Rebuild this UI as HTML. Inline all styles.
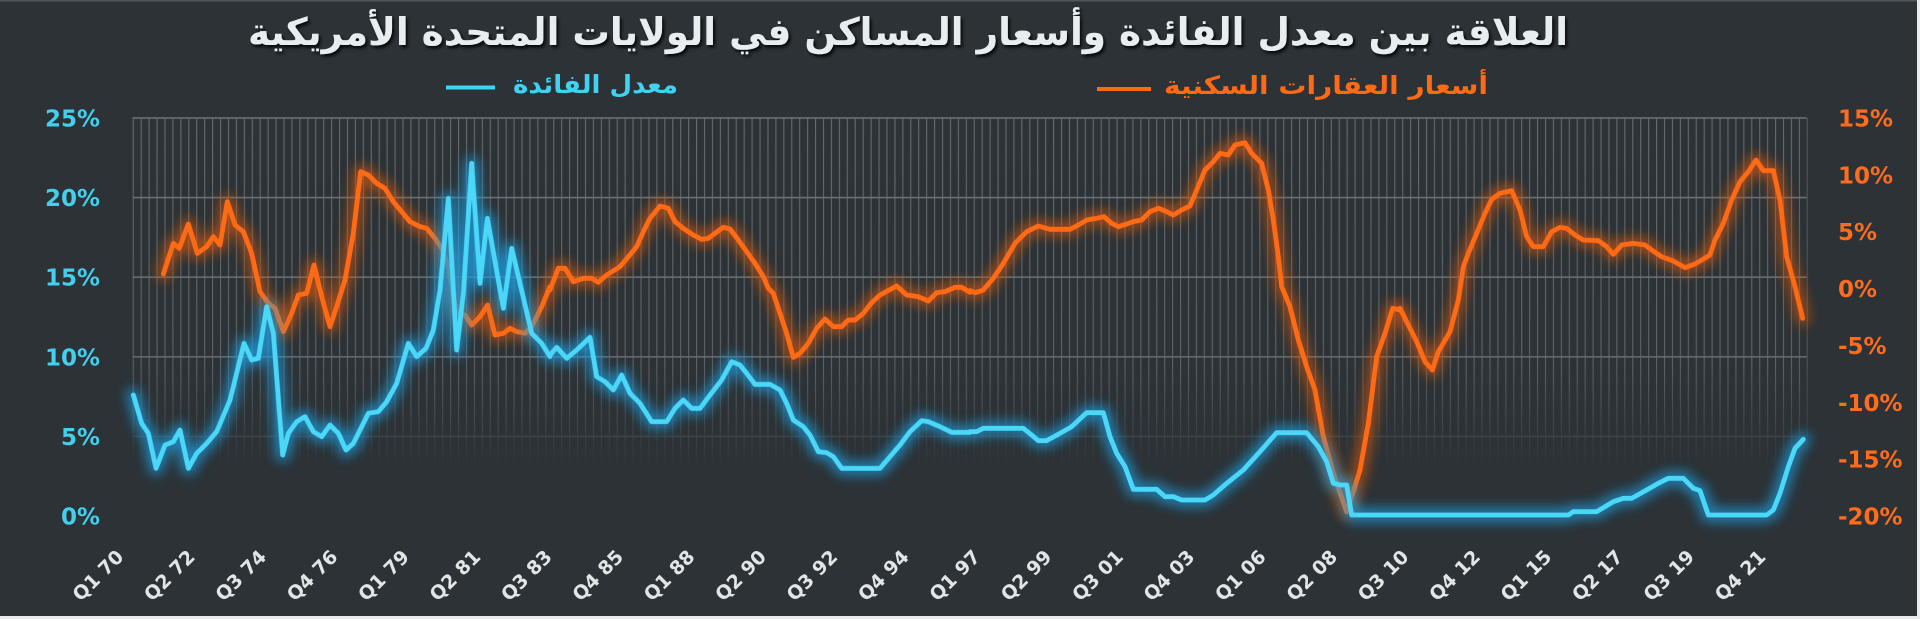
<!DOCTYPE html>
<html>
<head>
<meta charset="utf-8">
<style>
html,body{margin:0;padding:0;background:#e9ebec;}
body{width:1920px;height:619px;overflow:hidden;}
svg{display:block;}
</style>
</head>
<body>
<svg width="1920" height="619" viewBox="0 0 1920 619" xmlns="http://www.w3.org/2000/svg">
<defs>
  <pattern id="vg" x="132.7" y="0" width="7.934" height="619" patternUnits="userSpaceOnUse">
    <rect x="0" y="0" width="1.1" height="619" fill="#656c6f"/>
  </pattern>
  <linearGradient id="fadeGrad" x1="0" y1="118" x2="0" y2="516" gradientUnits="userSpaceOnUse">
    <stop offset="0" stop-color="#fff" stop-opacity="1"/>
    <stop offset="0.62" stop-color="#fff" stop-opacity="0.85"/>
    <stop offset="0.88" stop-color="#fff" stop-opacity="0"/>
    <stop offset="1" stop-color="#fff" stop-opacity="0"/>
  </linearGradient>
  <mask id="fade" maskUnits="userSpaceOnUse" x="0" y="0" width="1920" height="619">
    <rect x="0" y="0" width="1920" height="619" fill="url(#fadeGrad)"/>
  </mask>
  <filter id="blur" x="-5%" y="-20%" width="110%" height="140%">
    <feGaussianBlur stdDeviation="6"/>
  </filter>
  <filter id="shadow" x="-5%" y="-40%" width="110%" height="180%">
    <feDropShadow dx="2" dy="2.5" stdDeviation="1.5" flood-color="#000" flood-opacity="0.85"/>
  </filter>

  <g id="cy" fill="none">
    <polyline vector-effect="non-scaling-stroke" transform="translate(120 100) scale(0.33333)" points="40,885 65,970 85,1000 108,1105 135,1035 160,1025 180,990 205,1105 230,1060 260,1030 290,995 330,900 372,730 395,780 415,775 440,620 460,700 488,1065 505,1000 530,965 555,950 580,995 605,1010 630,975 655,1000 678,1050 700,1030 745,940 775,935 800,905 830,850 865,730 890,770 918,745 940,690 960,570 985,295 1010,750 1030,580 1055,190 1080,550 1102,355 1150,625 1175,445 1200,550 1235,700 1265,730 1290,770"/>
    <polyline vector-effect="non-scaling-stroke" transform="translate(540 100) scale(0.33333)" points="30,765 50,742 80,775 110,750 150,712 170,830 195,845 220,870 245,825 270,880 300,910 335,965 380,965 405,925 430,900 455,925 480,925 510,885 545,840 575,785 600,795 620,820 645,853 690,853 720,870 740,910 760,960 790,980 810,1005 835,1055 860,1058 880,1070 905,1105 1020,1105 1050,1070 1080,1035 1110,995 1145,962 1165,965 1200,980 1235,997 1290,997"/>
    <polyline vector-effect="non-scaling-stroke" transform="translate(960 100) scale(0.33333)" points="30,995 50,995 70,985 190,985 215,1005 235,1022 260,1022 300,1000 335,980 380,938 430,938 450,1010 470,1060 495,1100 520,1168 590,1168 615,1190 640,1190 665,1200 735,1200 760,1185 800,1150 850,1110 900,1055 950,998 1040,998 1075,1040 1100,1085 1120,1150 1140,1155 1160,1155 1175,1245 1320,1245"/>
    <polyline vector-effect="non-scaling-stroke" transform="translate(1380 100) scale(0.33333)" points="60,1245 565,1245 580,1235 650,1235 700,1205 730,1195 755,1195 800,1170 835,1150 865,1135 910,1135 940,1165 960,1172 985,1245 1160,1245 1180,1230 1200,1180 1225,1100 1245,1045 1270,1018"/>
  </g>

  <g id="or" fill="none">
    <polyline vector-effect="non-scaling-stroke" transform="translate(120 100) scale(0.33333)" points="130,522 160,430 178,445 205,372 232,460 260,440 280,410 300,435 322,305 345,375 370,395 395,460 420,575 445,610 465,625 490,695 515,640 535,585 560,580 582,495 605,590 630,680 650,620 675,540 700,400 722,215 745,225 770,250 795,265 820,305 845,335 870,365 900,380 920,385 945,415 965,445 985,500 1010,640 1035,645 1055,675 1080,650 1103,615 1125,705 1150,700 1170,685 1190,695 1215,700 1235,680 1265,620 1290,560"/>
    <polyline vector-effect="non-scaling-stroke" transform="translate(540 100) scale(0.33333)" points="30,570 55,505 75,505 100,545 130,535 155,535 175,547 200,525 240,500 265,470 290,440 310,395 330,355 360,318 385,325 405,365 430,385 460,405 485,418 505,415 525,400 550,382 570,387 595,420 620,455 645,490 670,530 685,565 700,580 720,640 740,700 760,772 780,760 805,730 830,685 855,657 880,680 905,680 925,660 945,660 970,640 995,608 1020,585 1070,558 1100,585 1135,590 1165,603 1190,578 1215,575 1245,562 1265,562 1290,577"/>
    <polyline vector-effect="non-scaling-stroke" transform="translate(960 100) scale(0.33333)" points="30,572 45,578 70,570 100,535 130,490 165,430 200,395 235,378 270,388 330,388 355,375 380,360 410,355 432,350 455,370 475,380 500,372 520,365 545,360 570,335 595,325 620,335 640,345 665,330 690,318 710,270 735,210 760,185 780,160 805,165 825,135 855,128 875,160 905,190 925,270 940,360 955,470 965,560 990,620 1015,720 1040,800 1065,870 1090,1010 1120,1120 1160,1235 1180,1175 1200,1110 1225,970 1250,770 1275,700 1298,625 1320,630"/>
    <polyline vector-effect="non-scaling-stroke" transform="translate(1380 100) scale(0.33333)" points="60,625 85,675 110,725 135,785 157,810 175,755 210,695 235,600 250,500 265,460 290,400 315,340 335,298 360,280 395,272 420,330 440,410 460,440 490,440 515,395 540,382 560,385 585,405 610,420 655,422 680,440 700,463 725,435 760,430 795,435 815,450 845,470 880,483 915,503 945,492 990,465 1005,420 1030,370 1055,300 1080,245 1105,215 1128,180 1150,212 1180,212 1200,300 1220,470 1245,560 1268,655"/>
  </g>
</defs>

<!-- background -->
<rect x="0" y="0" width="1917" height="616" fill="#2c3236"/>
<rect x="0" y="0" width="1917" height="1.5" fill="#4f5558"/>

<!-- gridlines -->
<g mask="url(#fade)">
  <rect x="132" y="118" width="1675.5" height="398" fill="url(#vg)"/>
  <g stroke="#6d7477" stroke-width="1.6">
    <line x1="132.7" y1="118" x2="1806.7" y2="118"/>
    <line x1="132.7" y1="197.6" x2="1806.7" y2="197.6"/>
    <line x1="132.7" y1="277.2" x2="1806.7" y2="277.2"/>
    <line x1="132.7" y1="356.8" x2="1806.7" y2="356.8"/>
    <line x1="132.7" y1="436.4" x2="1806.7" y2="436.4"/>
  </g>
</g>

<!-- series: orange -->
<use href="#or" stroke="#d2560c" stroke-width="14" opacity="0.7" filter="url(#blur)" stroke-linejoin="round" stroke-linecap="round"/>
<use href="#or" stroke="#ff6a14" stroke-width="4.8" stroke-linejoin="round" stroke-linecap="round"/>

<!-- series: cyan -->
<use href="#cy" stroke="#1f9ee0" stroke-width="14" opacity="0.75" filter="url(#blur)" stroke-linejoin="round" stroke-linecap="round"/>
<use href="#cy" stroke="#4bd7f7" stroke-width="4.8" stroke-linejoin="round" stroke-linecap="round"/>

<!-- left axis labels -->
<g font-family="'DejaVu Sans', 'Liberation Sans', sans-serif" font-weight="bold" font-size="23" fill="#43d0ef" text-anchor="end">
  <text x="100" y="126.5">25%</text>
  <text x="100" y="206">20%</text>
  <text x="100" y="285.7">15%</text>
  <text x="100" y="365.3">10%</text>
  <text x="100" y="445">5%</text>
  <text x="100" y="524.5">0%</text>
</g>

<!-- right axis labels -->
<g font-family="'DejaVu Sans', 'Liberation Sans', sans-serif" font-weight="bold" font-size="23" fill="#ff6c1c" text-anchor="start">
  <text x="1838" y="126.5">15%</text>
  <text x="1838" y="183.4">10%</text>
  <text x="1838" y="240.2">5%</text>
  <text x="1838" y="297.1">0%</text>
  <text x="1838" y="353.9">-5%</text>
  <text x="1838" y="410.8">-10%</text>
  <text x="1838" y="467.6">-15%</text>
  <text x="1838" y="524.5">-20%</text>
</g>

<!-- x axis labels -->
<g font-family="'DejaVu Sans', 'Liberation Sans', sans-serif" font-weight="bold" font-size="19" fill="#e2e5e6" text-anchor="end">
  <text transform="translate(124.7 558) rotate(-45)">Q1 70</text>
  <text transform="translate(196.1 558) rotate(-45)">Q2 72</text>
  <text transform="translate(267.5 558) rotate(-45)">Q3 74</text>
  <text transform="translate(338.9 558) rotate(-45)">Q4 76</text>
  <text transform="translate(410.3 558) rotate(-45)">Q1 79</text>
  <text transform="translate(481.7 558) rotate(-45)">Q2 81</text>
  <text transform="translate(553.1 558) rotate(-45)">Q3 83</text>
  <text transform="translate(624.5 558) rotate(-45)">Q4 85</text>
  <text transform="translate(695.9 558) rotate(-45)">Q1 88</text>
  <text transform="translate(767.3 558) rotate(-45)">Q2 90</text>
  <text transform="translate(838.7 558) rotate(-45)">Q3 92</text>
  <text transform="translate(910.1 558) rotate(-45)">Q4 94</text>
  <text transform="translate(981.5 558) rotate(-45)">Q1 97</text>
  <text transform="translate(1052.9 558) rotate(-45)">Q2 99</text>
  <text transform="translate(1124.3 558) rotate(-45)">Q3 01</text>
  <text transform="translate(1195.7 558) rotate(-45)">Q4 03</text>
  <text transform="translate(1267.1 558) rotate(-45)">Q1 06</text>
  <text transform="translate(1338.5 558) rotate(-45)">Q2 08</text>
  <text transform="translate(1409.9 558) rotate(-45)">Q3 10</text>
  <text transform="translate(1481.3 558) rotate(-45)">Q4 12</text>
  <text transform="translate(1552.7 558) rotate(-45)">Q1 15</text>
  <text transform="translate(1624.1 558) rotate(-45)">Q2 17</text>
  <text transform="translate(1695.5 558) rotate(-45)">Q3 19</text>
  <text transform="translate(1766.9 558) rotate(-45)">Q4 21</text>
</g>

<!-- title -->
<text x="908" y="45" text-anchor="middle" direction="rtl" font-family="'DejaVu Sans', 'Liberation Sans', sans-serif" font-weight="bold" font-size="38" fill="#e8edef" textLength="1320" lengthAdjust="spacingAndGlyphs" filter="url(#shadow)">العلاقة بين معدل الفائدة وأسعار المساكن في الولايات المتحدة الأمريكية</text>

<!-- legend -->
<line x1="446" y1="87.5" x2="495" y2="87.5" stroke="#3fd2f2" stroke-width="4"/>
<text x="595.5" y="93" text-anchor="middle" direction="rtl" font-family="'DejaVu Sans', 'Liberation Sans', sans-serif" font-weight="bold" font-size="25" fill="#3fd2f2" textLength="165" lengthAdjust="spacingAndGlyphs">معدل الفائدة</text>

<line x1="1097" y1="89" x2="1151" y2="89" stroke="#ff6a14" stroke-width="4"/>
<text x="1326" y="94" text-anchor="middle" direction="rtl" font-family="'DejaVu Sans', 'Liberation Sans', sans-serif" font-weight="bold" font-size="25" fill="#ff6a14" textLength="324" lengthAdjust="spacingAndGlyphs">أسعار العقارات السكنية</text>
</svg>
</body>
</html>
